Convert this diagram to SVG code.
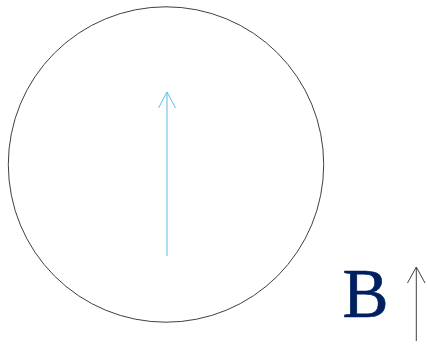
<svg xmlns="http://www.w3.org/2000/svg" width="427" height="344" viewBox="0 0 427 344">
<style>
.c{fill:none;stroke:#404040;stroke-width:1}
.a{fill:none;stroke-width:1}
</style>
<rect width="427" height="344" fill="#fff"/>
<g id="circle"><circle class="c" cx="166" cy="164.5" r="157.7"/></g>
<g id="label"><text x="342.5" y="316.5" font-family="Liberation Serif, serif" font-size="69" fill="#002060" stroke="#002060" stroke-width="0.6">B</text></g>
<g id="connectors">
<g id="blue-arrow" stroke="#5bbde8"><path class="a" d="M167 256V92M158.5 108L167 92L175.5 108"/></g>
<g id="black-arrow" stroke="#404040"><path class="a" d="M416.3 341V267M407.5 283L416.3 267L425 283"/></g>
</g>
</svg>
